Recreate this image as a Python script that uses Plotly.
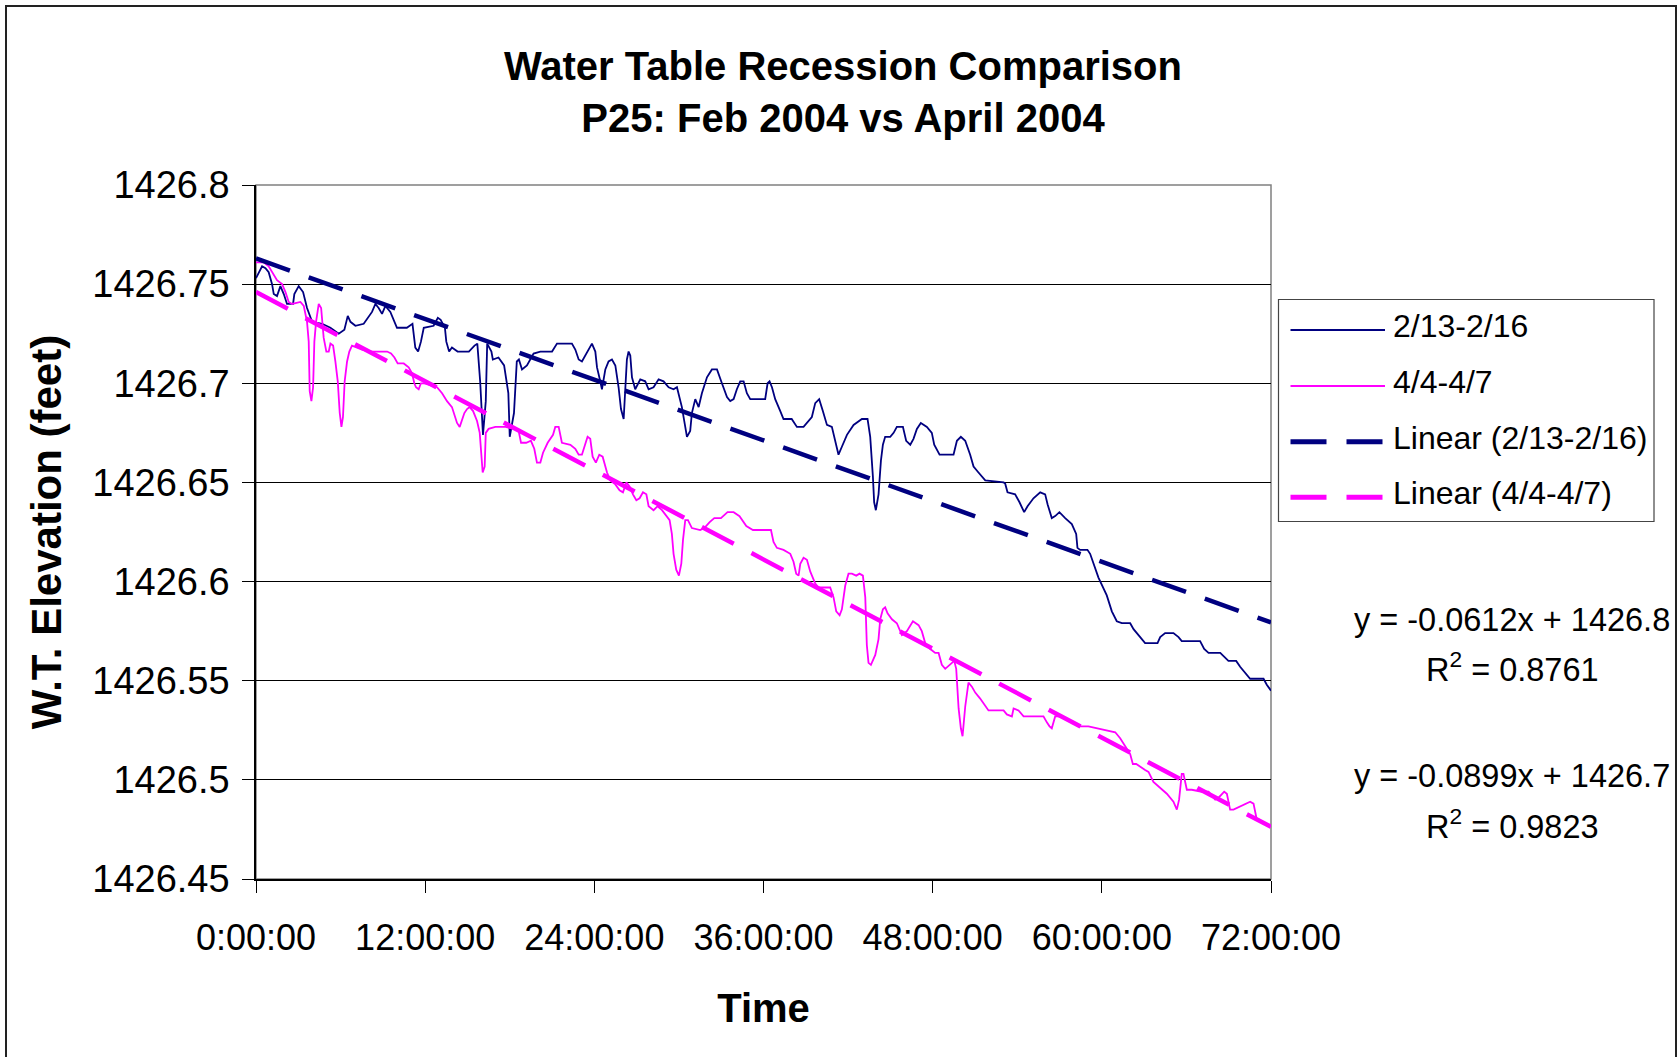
import plotly.graph_objects as go

# ---- data -------------------------------------------------------------
# elapsed time (hours) and water-table elevation (feet), P25, 2/13-2/16
hours_feb = [
    0.0, 0.43, 0.67, 0.90, 1.14, 1.26, 1.49, 1.73, 1.97, 2.20, 2.63, 2.72, 3.03, 3.34, 3.62, 3.98,
    4.69, 5.28, 5.87, 6.27, 6.51, 6.70, 7.05, 7.64, 8.23, 8.47, 8.70, 8.94, 9.18, 9.53, 10.0, 10.7,
    11.1, 11.3, 11.5, 11.7, 11.9, 12.6, 12.9, 13.1, 13.4, 13.5, 13.7, 13.9, 14.3, 15.1, 15.5, 15.7,
    15.9, 16.1, 16.3, 16.4, 16.7, 16.8, 17.2, 17.6, 17.9, 18.0, 18.3, 18.5, 18.65, 18.87, 19.22,
    19.69, 20.17, 21.0, 21.35, 22.41, 22.65, 22.89, 23.12, 23.36, 23.6, 23.83, 24.07, 24.19, 24.42,
    24.54, 24.78, 25.01, 25.25, 25.49, 25.72, 25.89, 26.08, 26.2, 26.31, 26.43, 26.55, 26.67, 26.9,
    27.26, 27.61, 27.85, 28.2, 28.56, 28.91, 29.27, 29.62, 29.86, 30.21, 30.45, 30.57, 30.8, 30.92,
    31.16, 31.4, 31.63, 31.99, 32.34, 32.7, 33.05, 33.41, 33.64, 33.88, 34.11, 34.35, 34.59, 34.82,
    35.06, 35.77, 36.12, 36.29, 36.43, 36.6, 36.83, 37.19, 37.42, 38.0, 38.37, 38.84, 39.43, 39.67,
    39.95, 40.21, 40.5, 40.85, 41.09, 41.32, 41.56, 41.92, 42.39, 42.98, 43.38, 43.57, 43.76, 43.85,
    43.97, 44.16, 44.33, 44.47, 44.63, 44.99, 45.23, 45.46, 45.89, 46.12, 46.41, 46.64, 46.88, 47.16,
    47.59, 47.94, 48.11, 48.49, 49.48, 49.72, 50.0, 50.31, 50.66, 50.9, 51.25, 51.73, 53.03, 53.14,
    53.31, 53.85, 54.16, 54.49, 54.73, 55.15, 55.63, 55.98, 56.15, 56.45, 56.69, 56.99, 57.4, 57.87,
    58.18, 58.27, 58.46, 58.98, 59.17, 59.41, 59.76, 60.35, 60.71, 61.06, 61.42, 62.01, 62.25, 62.72,
    63.07, 63.95, 64.14, 64.49, 65.08, 65.44, 65.67, 66.97, 67.26, 67.57, 68.4, 68.98, 69.53, 69.81,
    70.52, 71.47, 71.7, 72.0,
]
elev_feb = [
    1426.753, 1426.759, 1426.758, 1426.756, 1426.750, 1426.745, 1426.744, 1426.749, 1426.745,
    1426.740, 1426.740, 1426.745, 1426.749, 1426.746, 1426.738, 1426.731, 1426.730, 1426.728,
    1426.725, 1426.727, 1426.734, 1426.731, 1426.729, 1426.730, 1426.736, 1426.740, 1426.738,
    1426.735, 1426.739, 1426.736, 1426.728, 1426.728, 1426.730, 1426.718, 1426.716, 1426.721,
    1426.728, 1426.729, 1426.733, 1426.732, 1426.728, 1426.721, 1426.716, 1426.718, 1426.716,
    1426.716, 1426.719, 1426.720, 1426.701, 1426.674, 1426.691, 1426.720, 1426.716, 1426.712,
    1426.713, 1426.709, 1426.695, 1426.673, 1426.685, 1426.711, 1426.712, 1426.707, 1426.709,
    1426.715, 1426.716, 1426.716, 1426.720, 1426.720, 1426.717, 1426.712, 1426.711, 1426.714,
    1426.717, 1426.720, 1426.716, 1426.708, 1426.701, 1426.697, 1426.707, 1426.711, 1426.712,
    1426.709, 1426.698, 1426.687, 1426.682, 1426.697, 1426.712, 1426.716, 1426.714, 1426.703,
    1426.697, 1426.702, 1426.701, 1426.697, 1426.698, 1426.702, 1426.701, 1426.698, 1426.697,
    1426.698, 1426.688, 1426.678, 1426.673, 1426.676, 1426.685, 1426.692, 1426.688, 1426.695,
    1426.703, 1426.707, 1426.707, 1426.700, 1426.693, 1426.691, 1426.692, 1426.697, 1426.701,
    1426.701, 1426.695, 1426.692, 1426.692, 1426.692, 1426.700, 1426.701, 1426.698, 1426.692,
    1426.686, 1426.682, 1426.682, 1426.678, 1426.678, 1426.683, 1426.690, 1426.692, 1426.686,
    1426.679, 1426.678, 1426.671, 1426.664, 1426.668, 1426.674, 1426.679, 1426.682, 1426.682,
    1426.673, 1426.653, 1426.640, 1426.636, 1426.644, 1426.661, 1426.669, 1426.673, 1426.673,
    1426.675, 1426.678, 1426.678, 1426.671, 1426.669, 1426.672, 1426.677, 1426.680, 1426.678,
    1426.675, 1426.669, 1426.664, 1426.664, 1426.671, 1426.673, 1426.671, 1426.664, 1426.658,
    1426.655, 1426.651, 1426.650, 1426.6495, 1426.645, 1426.644, 1426.640, 1426.635, 1426.638,
    1426.642, 1426.645, 1426.644, 1426.639, 1426.632, 1426.633, 1426.635, 1426.632, 1426.629,
    1426.624, 1426.617, 1426.616, 1426.616, 1426.614, 1426.609, 1426.602, 1426.593, 1426.585,
    1426.580, 1426.579, 1426.579, 1426.576, 1426.572, 1426.569, 1426.569, 1426.572, 1426.574,
    1426.574, 1426.572, 1426.570, 1426.570, 1426.566, 1426.564, 1426.564, 1426.560, 1426.560,
    1426.557, 1426.551, 1426.551, 1426.548, 1426.545,
]

# elapsed time (hours) and water-table elevation (feet), P25, 4/4-4/7
hours_apr = [
    0.0, 0.55, 0.90, 1.14, 1.49, 1.85, 2.09, 2.32, 2.56, 3.15, 3.39, 3.62, 3.74, 3.81, 3.93, 4.05,
    4.14, 4.26, 4.45, 4.62, 4.69, 4.80, 4.99, 5.16, 5.28, 5.47, 5.63, 5.80, 5.94, 6.06, 6.17, 6.29,
    6.46, 6.62, 6.81, 7.17, 7.52, 8.11, 9.3, 9.58, 9.82, 10.05, 10.48, 10.83, 11.07, 11.23, 11.35,
    11.54, 11.7, 11.94, 12.4, 12.84, 13.2, 13.55, 13.9, 14.1, 14.26, 14.45, 14.6, 14.78, 14.97,
    15.16, 15.4, 15.68, 15.87, 15.96, 16.08, 16.22, 16.3, 16.5, 16.98, 17.7, 18.3, 18.6, 18.8,
    19.17, 19.5, 19.74, 19.93, 20.17, 20.36, 20.69, 21.07, 21.23, 21.47, 21.7, 22.3, 22.65, 22.89,
    23.12, 23.36, 23.52, 23.71, 23.88, 24.11, 24.35, 24.59, 24.9, 25.13, 25.49, 25.79, 26.03, 26.27,
    26.5, 26.74, 26.98, 27.21, 27.45, 27.69, 27.85, 28.2, 28.49, 28.8, 29.03, 29.34, 29.5, 29.62,
    29.81, 30.0, 30.17, 30.29, 30.45, 30.64, 30.92, 31.51, 31.8, 32.18, 32.51, 32.98, 33.45, 33.88,
    34.3, 34.78, 35.25, 36.53, 36.71, 36.95, 37.42, 37.9, 38.13, 38.32, 38.49, 38.61, 38.84, 39.08,
    39.32, 39.67, 39.91, 40.73, 40.97, 41.16, 41.4, 41.56, 41.8, 42.03, 42.27, 42.58, 42.81, 43.05,
    43.22, 43.33, 43.45, 43.62, 43.93, 44.16, 44.28, 44.47, 44.63, 44.8, 45.11, 45.46, 45.82, 46.17,
    46.6, 47.0, 47.23, 47.47, 47.83, 48.18, 48.42, 48.65, 48.89, 49.24, 49.53, 49.67, 49.84, 50.0,
    50.12, 50.31, 50.54, 50.78, 51.02, 51.37, 51.96, 53.03, 53.26, 53.62, 53.74, 54.09, 54.45, 55.04,
    55.86, 56.1, 56.29, 56.45, 56.69, 57.05, 58.46, 58.82, 59.05, 60.95, 61.3, 61.66, 62.01, 62.2,
    62.44, 63.07, 63.31, 63.66, 64.14, 64.61, 65.08, 65.32, 65.48, 65.67, 65.79, 66.03, 66.38, 67.09,
    67.57, 68.04, 68.28, 68.68, 68.87, 69.1, 69.34, 70.52, 70.76, 70.99, 71.18, 72.0,
]
elev_apr = [
    1426.761, 1426.761, 1426.759, 1426.756, 1426.752, 1426.750, 1426.746, 1426.741, 1426.740,
    1426.741, 1426.739, 1426.731, 1426.721, 1426.696, 1426.691, 1426.698, 1426.721, 1426.731,
    1426.740, 1426.738, 1426.731, 1426.723, 1426.716, 1426.716, 1426.720, 1426.719, 1426.711,
    1426.701, 1426.685, 1426.678, 1426.683, 1426.701, 1426.711, 1426.716, 1426.719, 1426.718,
    1426.717, 1426.716, 1426.716, 1426.715, 1426.713, 1426.710, 1426.710, 1426.708, 1426.705,
    1426.700, 1426.698, 1426.697, 1426.700, 1426.700, 1426.699, 1426.698, 1426.695, 1426.691,
    1426.688, 1426.684, 1426.680, 1426.678, 1426.681, 1426.685, 1426.687, 1426.688, 1426.686,
    1426.681, 1426.675, 1426.665, 1426.655, 1426.658, 1426.675, 1426.677, 1426.678, 1426.678,
    1426.677, 1426.677, 1426.670, 1426.670, 1426.671, 1426.667, 1426.660, 1426.660, 1426.665,
    1426.670, 1426.674, 1426.678, 1426.678, 1426.670, 1426.669, 1426.667, 1426.664, 1426.664,
    1426.670, 1426.673, 1426.672, 1426.663, 1426.660, 1426.664, 1426.663, 1426.655, 1426.651,
    1426.649, 1426.646, 1426.645, 1426.650, 1426.648, 1426.644, 1426.641, 1426.642, 1426.645,
    1426.644, 1426.638, 1426.636, 1426.638, 1426.636, 1426.634, 1426.631, 1426.624, 1426.614,
    1426.606, 1426.603, 1426.609, 1426.621, 1426.631, 1426.631, 1426.627, 1426.626, 1426.627,
    1426.630, 1426.632, 1426.632, 1426.635, 1426.635, 1426.633, 1426.628, 1426.626, 1426.626,
    1426.620, 1426.617, 1426.616, 1426.614, 1426.610, 1426.604, 1426.603, 1426.609, 1426.612,
    1426.611, 1426.605, 1426.599, 1426.597, 1426.597, 1426.592, 1426.585, 1426.583, 1426.586,
    1426.598, 1426.604, 1426.604, 1426.603, 1426.604, 1426.603, 1426.592, 1426.568, 1426.559,
    1426.558, 1426.563, 1426.571, 1426.581, 1426.586, 1426.587, 1426.584, 1426.581, 1426.579,
    1426.573, 1426.575, 1426.580, 1426.578, 1426.575, 1426.569, 1426.566, 1426.564, 1426.564,
    1426.558, 1426.556, 1426.558, 1426.560, 1426.556, 1426.536, 1426.526, 1426.522, 1426.537,
    1426.549, 1426.547, 1426.544, 1426.541, 1426.535, 1426.535, 1426.533, 1426.532, 1426.536,
    1426.535, 1426.532, 1426.532, 1426.532, 1426.529, 1426.527, 1426.526, 1426.532, 1426.532,
    1426.527, 1426.527, 1426.527, 1426.524, 1426.521, 1426.517, 1426.513, 1426.508, 1426.508,
    1426.505, 1426.504, 1426.499, 1426.496, 1426.493, 1426.489, 1426.485, 1426.490, 1426.503,
    1426.503, 1426.495, 1426.495, 1426.494, 1426.494, 1426.490, 1426.491, 1426.494, 1426.493,
    1426.485, 1426.485, 1426.489, 1426.488, 1426.480, 1426.480,
]

# linear trend fits: elevation = intercept + slope * days
slope_feb, intercept_feb, r2_feb = -0.0612, 1426.763, 0.8761
slope_apr, intercept_apr, r2_apr = -0.0899, 1426.746, 0.9823

series_names = ["2/13-2/16", "4/4-4/7", "Linear (2/13-2/16)", "Linear (4/4-4/7)"]
x_tick_hours = [0, 12, 24, 36, 48, 60, 72]
x_tick_labels = ["0:00:00", "12:00:00", "24:00:00", "36:00:00", "48:00:00", "60:00:00", "72:00:00"]
y_ticks = [1426.45, 1426.5, 1426.55, 1426.6, 1426.65, 1426.7, 1426.75, 1426.8]
y_tick_labels = ["1426.45", "1426.5", "1426.55", "1426.6", "1426.65", "1426.7", "1426.75", "1426.8"]

# ---- styling ----------------------------------------------------------
NAVY = "#000080"
MAGENTA = "#FF00FF"
FONT = "Liberation Sans, Arial, Helvetica, sans-serif"
W, H = 1677, 1057
M_L, M_R, M_T, M_B = 256, 406, 185, 178
PW, PH = W - M_L - M_R, H - M_T - M_B
TREND_DASH = "36px,20px"


def px(xp):
    """page pixel x -> paper coordinate"""
    return (xp - M_L) / PW


def py(yp):
    """page pixel y -> paper coordinate"""
    return 1 - (yp - M_T) / PH


def trend(hours, slope, intercept):
    return [intercept + slope * h / 24.0 for h in hours]


trend_x = [x_tick_hours[0], x_tick_hours[-1]]

fig = go.Figure()
fig.add_trace(go.Scatter(x=hours_feb, y=elev_feb, mode="lines", name=series_names[0],
                         line=dict(color=NAVY, width=1.8)))
fig.add_trace(go.Scatter(x=hours_apr, y=elev_apr, mode="lines", name=series_names[1],
                         line=dict(color=MAGENTA, width=1.8)))
fig.add_trace(go.Scatter(x=trend_x, y=trend(trend_x, slope_feb, intercept_feb), mode="lines",
                         name=series_names[2], line=dict(color=NAVY, width=4.5, dash=TREND_DASH)))
fig.add_trace(go.Scatter(x=trend_x, y=trend(trend_x, slope_apr, intercept_apr), mode="lines",
                         name=series_names[3], line=dict(color=MAGENTA, width=4.5, dash=TREND_DASH)))

shapes = [
    # chart border
    dict(type="rect", xref="paper", yref="paper", x0=px(6), x1=px(1676), y0=py(1062), y1=py(6),
         line=dict(color="#222222", width=2), layer="below"),
    # plot-area frame
    dict(type="rect", xref="paper", yref="paper", x0=0, x1=1, y0=0, y1=1,
         line=dict(color="#808080", width=1.5), layer="below"),
    # legend box
    dict(type="rect", xref="paper", yref="paper", x0=px(1278.5), x1=px(1654), y0=py(521.5), y1=py(299.5),
         line=dict(color="#444444", width=1.2), fillcolor="white"),
]

annotations = []
legend_rows = [330, 386, 441.7, 497.3]
legend_styles = [(NAVY, 2, "solid"), (MAGENTA, 2, "solid"), (NAVY, 5, TREND_DASH), (MAGENTA, 5, TREND_DASH)]
for name, row, (col, wid, dash) in zip(series_names, legend_rows, legend_styles):
    shapes.append(dict(type="line", xref="paper", yref="paper", x0=px(1290.5), x1=px(1385),
                       y0=py(row), y1=py(row), line=dict(color=col, width=wid, dash=dash)))
    annotations.append(dict(xref="paper", yref="paper", x=px(1391), y=py(row - 4), text=name,
                            showarrow=False, xanchor="left", yanchor="middle",
                            font=dict(family=FONT, size=32, color="black")))

# trendline equations
eq_texts = [
    (f"y = {slope_feb:.4f}x + {intercept_feb:.1f}", 620),
    (f"R<sup>2</sup> = {r2_feb:.4f}", 667),
    (f"y = {slope_apr:.4f}x + {intercept_apr:.1f}", 776),
    (f"R<sup>2</sup> = {r2_apr:.4f}", 824),
]
for txt, row in eq_texts:
    annotations.append(dict(xref="paper", yref="paper", x=px(1512), y=py(row), text=txt,
                            showarrow=False, xanchor="center", yanchor="middle",
                            font=dict(family=FONT, size=32.5, color="black")))

fig.update_layout(
    width=W, height=H,
    margin=dict(l=M_L, r=M_R, t=M_T, b=M_B, pad=0),
    paper_bgcolor="white", plot_bgcolor="white",
    showlegend=False,
    title=dict(text="<b>Water Table Recession Comparison<br>P25: Feb 2004 vs April 2004</b>",
               x=843 / W, xanchor="center", xref="container",
               y=1 - 80 / H, yanchor="middle", yref="container",
               font=dict(family=FONT, size=40, color="black")),
    font=dict(family=FONT, color="black"),
    shapes=shapes,
    annotations=annotations,
)

fig.update_xaxes(
    range=[0, 72], tickmode="array", tickvals=x_tick_hours, ticktext=x_tick_labels,
    ticks="outside", ticklen=12, tickwidth=1.2, tickcolor="black",
    showline=True, linecolor="black", linewidth=1.5,
    showgrid=False, zeroline=False, ticklabelstandoff=14,
    tickfont=dict(family=FONT, size=36, color="black"),
    title=dict(text="<b>Time</b>", standoff=37, font=dict(family=FONT, size=40, color="black")),
)
fig.update_yaxes(
    range=[1426.45, 1426.8], tickmode="array", tickvals=y_ticks, ticktext=y_tick_labels,
    ticks="outside", ticklen=12, tickwidth=1.2, tickcolor="black",
    showline=True, linecolor="black", linewidth=1.5,
    showgrid=True, gridcolor="black", gridwidth=1, zeroline=False, ticklabelstandoff=5,
    tickfont=dict(family=FONT, size=38, color="black"),
    title=dict(text="<b>W.T. Elevation (feet)</b>", standoff=18,
               font=dict(family=FONT, size=42, color="black")),
)

fig.write_html("out.html")
